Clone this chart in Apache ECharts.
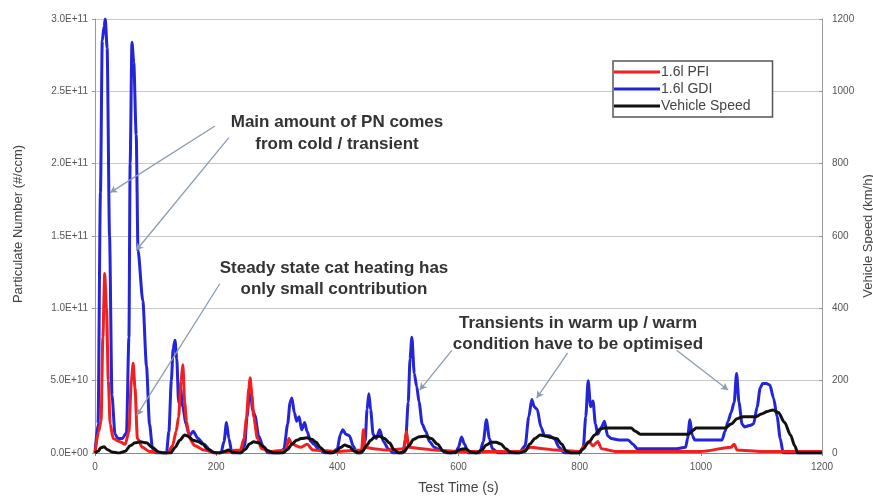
<!DOCTYPE html>
<html>
<head>
<meta charset="utf-8">
<script src="https://cdn.jsdelivr.net/npm/echarts@6/dist/echarts.min.js"></script>
<style>html,body{margin:0;padding:0;background:#fff;}#c{width:873px;height:497px;}</style>
</head>
<body>
<div id="c"></div>
<script>
// ---- data (PN in units of 1E10 #/ccm, speed in km/h) ----
var gdiTime = [0,5,9,12,15,17,20,24,28,33,38,45,52,56,58,61,64,68,71,79,85,90,95,100,
  118,122,126,129,132,135,138,141,145,150,156,162,170,180,190,197,
  208,213,217,221,226,
  240,247,251,256,260,264,270,278,286,
  305,312,318,322,325,329,333,337,341,346,350,356,362,370,380,
  392,400,405,409,414,420,426,432,
  440,446,449,452,455,459,464,470,476,484,492,
  508,513,517,520,523,527,531,535,540,546,552,560,570,582,
  595,600,605,610,616,
  635,641,646,651,656,666,
  700,710,716,721,725,730,736,742,750,758,766,775,
  800,806,810,814,818,822,826,830,836,841,846,852,865,880,888,895,905,930,960,975,978,982,986,990,1000,1020,1035,
  1040,1045,1050,1055,1059,1063,1068,1072,1080,1087,1093,1098,1102,1108,1114,1120,1126,1131,1136,1150,1200];
var gdiPN = [0,2,18,28.5,29.5,30,28,15,4,1.3,1.0,1.0,1.4,8,20,28.4,27,22,14,10.5,6,2,0.3,0,
  0,1.5,5,7.2,7.8,6.5,3.5,4.5,3.2,2.0,1.2,1.5,1.0,0.6,0.2,0,
  0,0.8,2.1,1.0,0,
  0,0.5,2.5,4.8,3.0,2.6,1.2,0.4,0,
  0,0.3,2.0,3.5,3.8,2.8,2.2,2.5,1.6,2.1,1.5,0.8,0.6,0.2,0,
  0,0.3,1.3,1.6,1.3,1.2,0.5,0,
  0,0.8,3.0,4.1,3.0,1.3,1.0,1.6,0.8,0.3,0,
  0,1.0,3.5,6.5,8.0,5.5,4.6,3.5,2.0,1.5,0.8,0.4,0.2,0,
  0,0.4,1.1,0.6,0,
  0,0.8,2.3,1.0,0.3,0,
  0,0.5,2.5,3.7,3.2,3.0,1.8,1.2,1.2,1.0,0.4,0,
  0,0.4,2.5,5.0,3.2,3.6,2.0,1.3,1.8,2.2,1.2,1.0,0.9,0.9,0.6,0.3,0.3,0.3,0.3,0.4,1.0,2.3,1.2,0.9,0.9,0.9,0.9,
  1.5,2.2,2.8,3.5,5.5,3.5,2.0,1.8,1.9,2.0,3.2,4.5,4.8,4.8,4.7,3.8,2.5,1.0,0,0,0];

var pfiTime = [0,6,10,13,16,19,22,25,30,40,50,56,60,63,66,70,78,90,120,128,134,138,142,145,148,151,156,165,180,200,
  240,246,250,254,256,259,262,268,275,290,315,320,325,340,350,360,400,440,443,446,460,480,510,514,518,540,560,
  600,640,700,720,740,760,800,808,815,822,830,836,860,1000,1050,1055,1060,1100,1200];
var pfiPN = [0,1.5,2.2,8,12.4,10,5,2.0,1.0,0.8,0.6,1.5,5,6.2,4.5,1.0,0.4,0.1,0,0.5,1.5,2.5,5.0,6.1,3.5,2.2,1.0,0.5,0.2,0,
  0.2,1.0,2.4,4.5,5.2,4.0,2.5,1.0,0.3,0.1,0.2,1.0,0.6,0.4,0.6,0.2,0.1,0.2,1.6,0.4,0.3,0.2,0.3,1.5,0.4,0.3,0.2,
  0.1,0.1,0.1,0.4,0.3,0.2,0.1,0.5,0.8,0.5,0.8,0.3,0.1,0.1,0.4,0.6,0.2,0.1,0.1];

var speedTime = [0,5,10,15,20,28,40,50,58,66,75,85,95,105,112,125,132,140,148,155,162,170,178,185,195,205,215,220,228,
  240,248,255,262,270,278,285,295,310,318,325,333,340,350,358,365,372,380,390,398,405,412,420,428,436,
  442,448,455,462,470,478,486,494,502,510,518,526,535,545,555,565,575,585,595,603,612,620,630,
  638,646,654,662,670,678,686,700,710,718,726,735,745,755,762,770,778,786,798,805,815,825,833,840,885,
  892,900,980,987,992,1040,1050,1060,1070,1090,1100,1110,1119,1128,1138,1148,1155,1160,1200];
var speedKmh = [0,5,15,17,10,3,0,5,20,28,31,28,15,3,0,0,15,35,50,45,35,32,25,12,2,0,5,8,2,
  0,10,25,31,28,18,6,0,0,10,25,35,40,42,38,30,15,3,0,5,15,22,18,5,0,
  5,20,35,45,46,40,28,8,0,3,20,38,45,46,40,25,5,0,3,10,12,3,0,
  8,22,30,30,25,12,2,0,5,25,40,50,46,42,40,25,5,0,0,10,30,50,65,69,69,
  60,52,52,62,69,69,80,95,100,100,108,115,119,112,85,50,20,0,0];

var seriesNames = ['1.6l PFI','1.6l GDI','Vehicle Speed'];
var notes = [
  ['Main amount of PN comes','from cold / transient'],
  ['Steady state cat heating has','only small contribution'],
  ['Transients in warm up / warm','condition have to be optimised']
];
// arrows: [start time, start PN(1E10)], [end time, end PN(1E10)]
var arrowsStart = [[198,22.6],[221,21.8],[206,11.7],[589,7.1],[780,6.9],[960,7.1]];
var arrowsEnd   = [[25,18.0],[68,14.0],[69,2.6],[536,4.35],[729,3.8],[1045,4.35]];

function pairs(t, v, scale){ return t.map(function(x,i){ return [x, v[i]*scale]; }); }
function expFmt(v){
  var s = v.toExponential(1).toUpperCase();
  var m = s.split('E');
  var sign = m[1].charAt(0);
  var d = m[1].slice(1);
  if (d.length < 2) d = '0' + d;
  return m[0] + 'E' + sign + d;
}
function plain(v){ return String(v); }

var FONT = 'Liberation Sans, Arial, sans-serif';
var chart = echarts.init(document.getElementById('c'));
var txtStyle = {fontFamily:FONT, fontSize:17, fontWeight:'bold', fill:'#333', textAlign:'center'};
chart.setOption({
  animation:false,
  backgroundColor:'#fff',
  grid:{left:95,right:51,top:19,bottom:44,show:false,containLabel:false,outerBoundsMode:'none'},
  legend:{
    orient:'vertical', left:613, top:61,
    data:seriesNames,
    icon:'rect', itemWidth:46, itemHeight:3, itemGap:3,
    backgroundColor:'#fff', borderColor:'#555', borderWidth:1.5,
    padding:[4,22,4,1],
    textStyle:{fontFamily:FONT, fontSize:14, color:'#444', padding:[0,0,0,-4]}
  },
  xAxis:{
    type:'value', min:0, max:1200, interval:200,
    name:'Test Time (s)', nameLocation:'middle', nameGap:28,
    nameTextStyle:{fontFamily:FONT, fontSize:14, color:'#444'},
    axisLine:{lineStyle:{color:'#888'}},
    axisTick:{show:true, length:3, lineStyle:{color:'#888'}},
    axisLabel:{fontFamily:FONT, fontSize:10, color:'#555', margin:9, formatter:plain},
    splitLine:{show:false}
  },
  yAxis:[{
    type:'value', min:0, max:3e11, interval:5e10,
    name:'Particulate Number (#/ccm)', nameLocation:'middle', nameGap:70, nameRotate:90,
    nameTextStyle:{fontFamily:FONT, fontSize:13, color:'#444', padding:[0,0,0,24]},
    axisLine:{show:true, lineStyle:{color:'#999'}},
    axisTick:{show:true, length:3, lineStyle:{color:'#999'}},
    axisLabel:{fontFamily:FONT, fontSize:10, color:'#555', margin:7, formatter:expFmt},
    splitLine:{lineStyle:{color:'#c8c8c8', width:1.2}}
  },{
    type:'value', min:0, max:1200, interval:200, position:'right',
    name:'Vehicle Speed (km/h)', nameLocation:'middle', nameGap:40, nameRotate:90, nameMoveOverlap:false,
    nameTextStyle:{fontFamily:FONT, fontSize:13, color:'#444'},
    axisLine:{show:true, lineStyle:{color:'#999'}},
    axisTick:{show:true, length:3, inside:true, lineStyle:{color:'#999'}},
    axisLabel:{fontFamily:FONT, fontSize:10, color:'#555', margin:10, formatter:plain},
    splitLine:{show:false}
  }],
  series:[{
    name:seriesNames[0], type:'line', yAxisIndex:0, z:3,
    data:pairs(pfiTime, pfiPN, 1e10), showSymbol:false, smooth:0.25, smoothMonotone:'x',
    lineStyle:{color:'#f02020', width:3}, itemStyle:{color:'#f02020'}
  },{
    name:seriesNames[1], type:'line', yAxisIndex:0, z:2,
    data:pairs(gdiTime, gdiPN, 1e10), showSymbol:false, smooth:0.25, smoothMonotone:'x',
    lineStyle:{color:'#2424d8', width:3}, itemStyle:{color:'#2424d8'},
    markLine:{
      silent:true, symbol:['none','arrow'], symbolSize:[6,7],
      label:{show:false},
      lineStyle:{color:'#8a9cae', width:1.3, type:'solid'},
      data: arrowsStart.map(function(s,i){
        return [{coord:[s[0], s[1]*1e10]},{coord:[arrowsEnd[i][0], arrowsEnd[i][1]*1e10]}];
      })
    }
  },{
    name:seriesNames[2], type:'line', yAxisIndex:1, z:4,
    data:pairs(speedTime, speedKmh, 1), showSymbol:false, smooth:0.3, smoothMonotone:'x',
    lineStyle:{color:'#111', width:3}, itemStyle:{color:'#111'}
  }],
  graphic:[
    {type:'text', x:337, y:111, style:Object.assign({text:notes[0].join('\n'), lineHeight:22}, txtStyle)},
    {type:'text', x:334, y:258, style:Object.assign({text:notes[1].join('\n'), lineHeight:21}, txtStyle)},
    {type:'text', x:578, y:313, style:Object.assign({text:notes[2].join('\n'), lineHeight:21}, txtStyle)}
  ]
});
</script>
</body>
</html>
